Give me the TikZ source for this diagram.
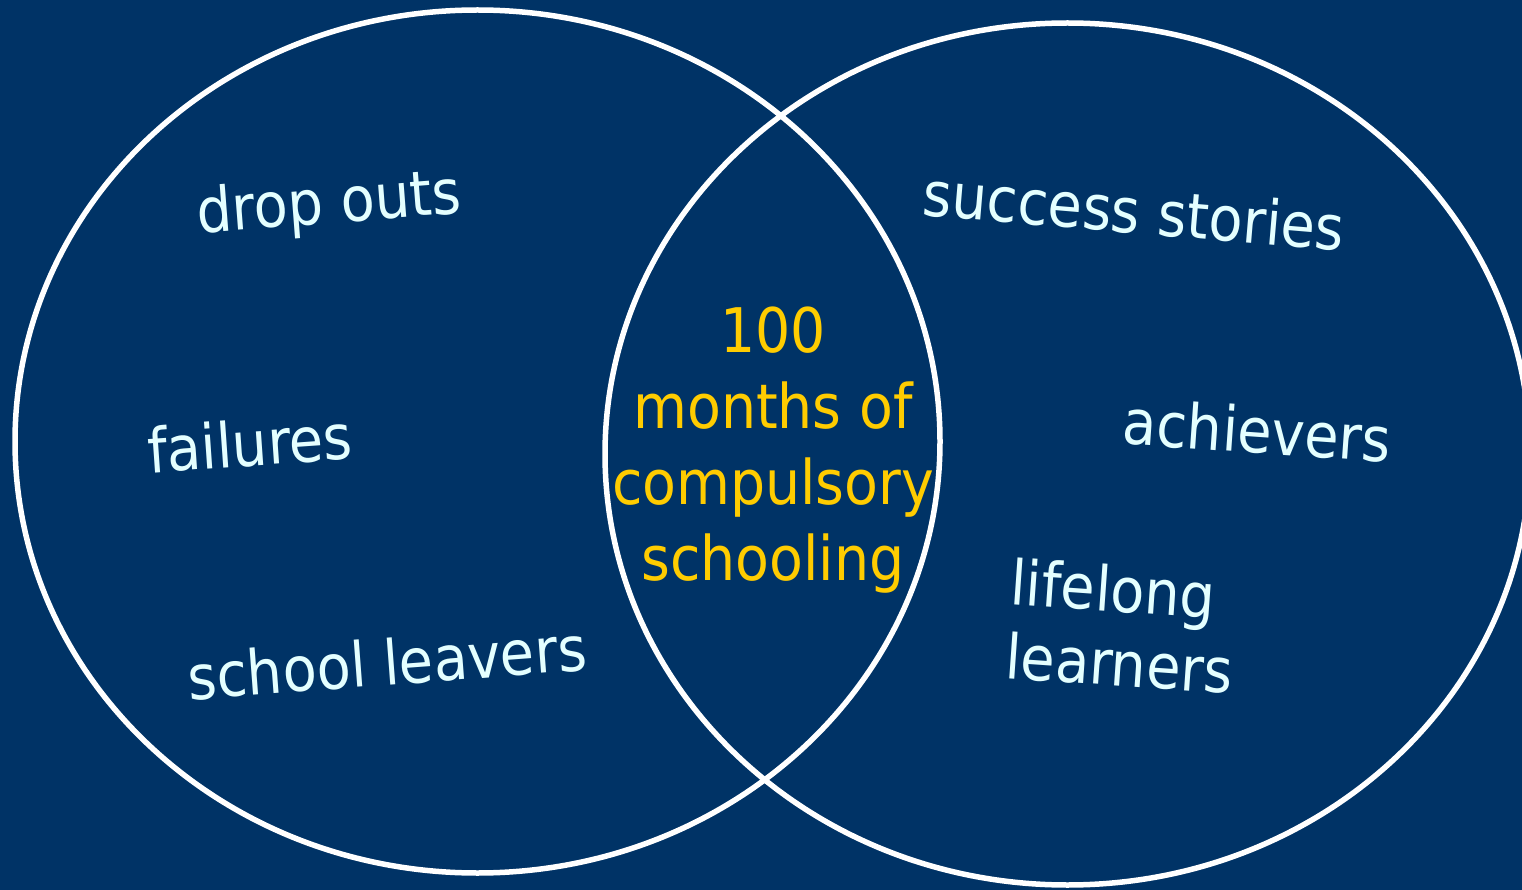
\documentclass[tikz,border=0pt]{standalone}
\usepackage{fontspec}
\setmainfont{DejaVu Sans Condensed}
\definecolor{navy}{RGB}{0,51,102}
\definecolor{lbl}{RGB}{228,255,255}
\definecolor{gold}{RGB}{255,204,0}
\tikzset{
  ring/.style={draw=white, line width=5.5pt},
  word/.style={text=lbl, inner sep=0pt, font=\fontsize{62}{74}\selectfont},
  core/.style={text=gold, inner sep=0pt, align=center, font=\fontsize{61.5}{76}\selectfont}
}
\begin{document}
\begin{tikzpicture}[x=1pt,y=-1pt]
\useasboundingbox (0,0) rectangle (1522,890);
\fill[navy] (0,0) rectangle (1522,890);
\begin{scope}
\clip (0,0) rectangle (1522,890);
\draw[ring] (477.5,441.5) ellipse [x radius=462.5, y radius=431.5];
\draw[ring] (1067.5,454) ellipse [x radius=462.5, y radius=431];
\end{scope}
\node[word, rotate=4.4] (drop) at (329,206) {drop outs};
\node[word, rotate=4] (fail) at (250,443) {failures};
\node[word, rotate=4.3] (leave) at (387,662) {school leavers};
\node[word, rotate=-4.8] (succ) at (1134,210) {success stories};
\node[word, rotate=-4] (ach) at (1257,430) {achievers};
\node[word, rotate=-4, align=left] (life) at (1122,626) {lifelong\\learners};
\node[core] (mid) at (773,450) {100\\months of\\compulsory\\schooling};
\end{tikzpicture}
\end{document}
